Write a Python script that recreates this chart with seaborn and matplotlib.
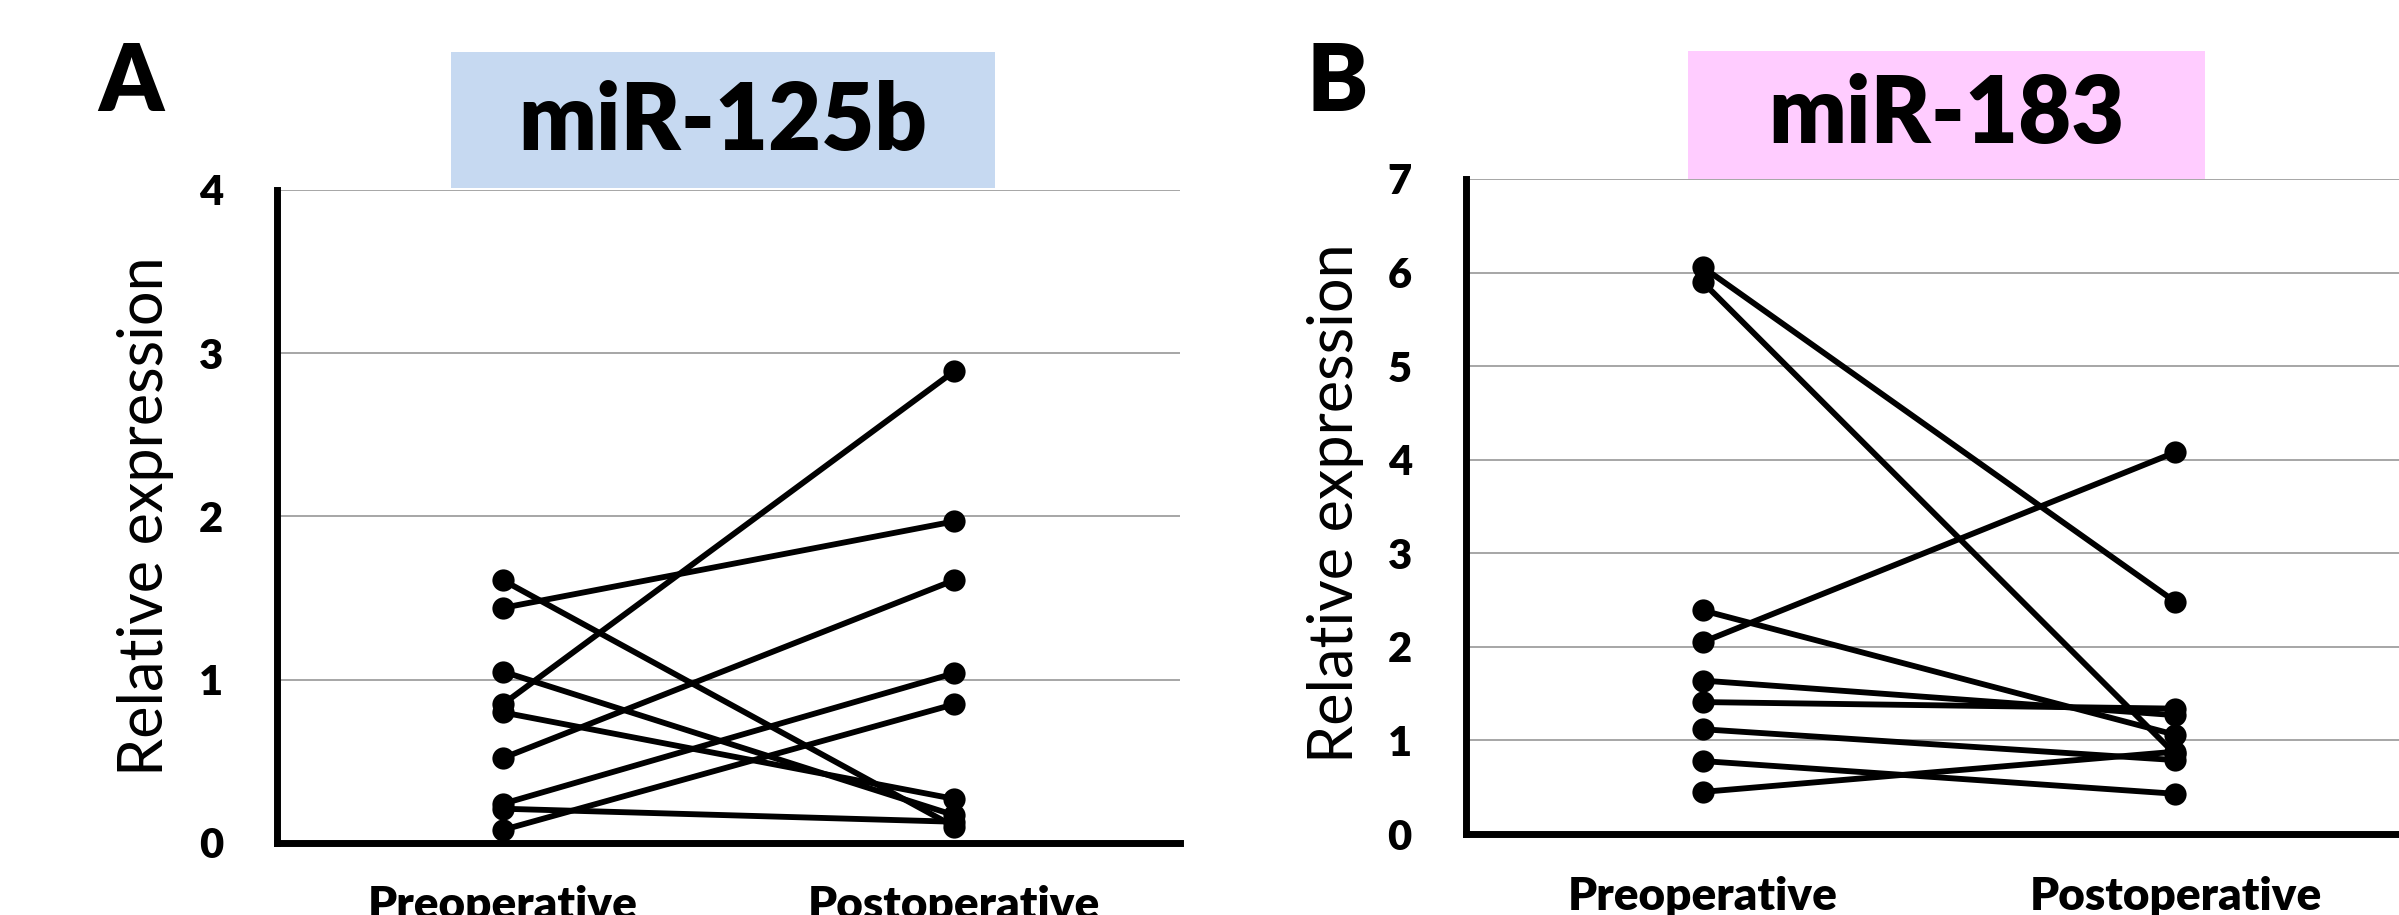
import matplotlib
matplotlib.use("Agg")
import matplotlib.pyplot as plt
from matplotlib.patches import Rectangle
import seaborn as sns
import pandas as pd

# Values (one line per patient)
stages = ["Preoperative", "Postoperative"]

mir125b_pre = [1.61, 1.44, 1.05, 0.85, 0.80, 0.52, 0.24, 0.21, 0.08]
mir125b_post = [0.10, 1.97, 0.17, 2.89, 0.27, 1.61, 1.04, 0.13, 0.85]

mir183_pre = [6.06, 5.90, 2.39, 2.05, 1.64, 1.41, 1.12, 0.78, 0.45]
mir183_post = [2.48, 0.85, 1.06, 4.08, 1.27, 1.34, 0.79, 0.43, 0.88]

ylabel = "Relative expression"

sns.set_style("white")
plt.rcParams["font.family"] = ["Lato", "DejaVu Sans"]
plt.rcParams["text.color"] = "black"
plt.rcParams["axes.labelcolor"] = "black"
plt.rcParams["xtick.color"] = "black"
plt.rcParams["ytick.color"] = "black"


def to_long(pre, post):
    rows = []
    for i, (a, b) in enumerate(zip(pre, post)):
        rows.append({"patient": i, "stage": 0, "value": a})
        rows.append({"patient": i, "stage": 1, "value": b})
    return pd.DataFrame(rows)


def draw_panel(ax, df, ymax):
    sns.lineplot(
        data=df, x="stage", y="value", units="patient", estimator=None,
        color="black", linewidth=4.2, marker="o", markersize=16,
        markeredgewidth=0, ax=ax, legend=False
    )
    ax.set_xlim(-0.5, 1.5)
    ax.set_ylim(0, ymax)
    ax.set_yticks(range(ymax + 1))
    ax.set_xticks([0, 1])
    ax.set_xticklabels(stages)
    ax.set_xticks([1.5], minor=True)
    ax.set_xlabel("")
    ax.set_ylabel("")
    ax.set_axisbelow(True)
    ax.yaxis.grid(True, color="#a6a6a6", linewidth=1.4)
    ax.xaxis.grid(False)
    for side in ["top", "right"]:
        ax.spines[side].set_visible(False)
    for side in ["left", "bottom"]:
        ax.spines[side].set_linewidth(5)
        ax.spines[side].set_color("black")
    ax.tick_params(axis="both", which="both", direction="out", length=9,
                   width=3.5, color="black")
    ax.tick_params(axis="y", labelsize=30, pad=30)
    ax.tick_params(axis="x", labelsize=33, pad=21)
    for lab in ax.get_xticklabels() + ax.get_yticklabels():
        lab.set_fontweight("heavy")


fig = plt.figure(figsize=(23.99, 9.15), dpi=100)
axA = fig.add_axes([0.1155, 0.0787, 0.3764, 0.7137])
axB = fig.add_axes([0.6111, 0.0885, 0.3943, 0.7159])

draw_panel(axA, to_long(mir125b_pre, mir125b_post), 4)
draw_panel(axB, to_long(mir183_pre, mir183_post), 7)

# title boxes
fig.add_artist(Rectangle((0.188, 0.7945), 0.2268, 0.1486, transform=fig.transFigure,
                         facecolor="#c6d9f1", edgecolor="none", zorder=0))
fig.add_artist(Rectangle((0.7036, 0.8033), 0.2155, 0.1410, transform=fig.transFigure,
                         facecolor="#ffccff", edgecolor="none", zorder=0))
fig.text(0.3014, 0.836, "miR-125b", ha="center", va="baseline",
         fontsize=66, fontweight="heavy")
fig.text(0.8114, 0.8437, "miR-183", ha="center", va="baseline",
         fontsize=66, fontweight="heavy")

# panel letters
fig.text(0.0409, 0.8787, "A", ha="left", va="baseline", fontsize=66, fontweight="heavy")
fig.text(0.5448, 0.8787, "B", ha="left", va="baseline", fontsize=66, fontweight="heavy")

# y labels
fig.text(145 / 2399, 1 - 516 / 915, ylabel, rotation=90, ha="center", va="center",
         fontsize=44)
fig.text(1336 / 2399, 1 - 503 / 915, ylabel, rotation=90, ha="center", va="center",
         fontsize=44)

fig.savefig("out.png", dpi=100)
